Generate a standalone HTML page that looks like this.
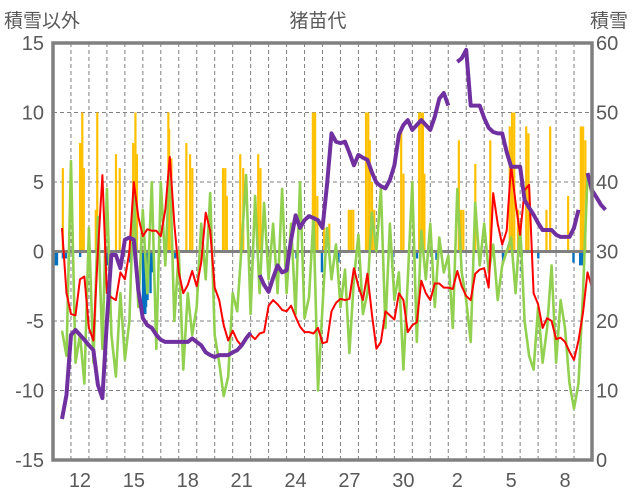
<!DOCTYPE html>
<html><head><meta charset="utf-8">
<style>
html,body{margin:0;padding:0;background:#fff;}
svg{display:block;font-family:"Liberation Sans","Noto Sans CJK JP",sans-serif;}
</style></head>
<body>
<svg id="chart" width="636" height="501" viewBox="0 0 636 501" xmlns="http://www.w3.org/2000/svg">
<text x="4" y="27" font-size="19" fill="#595959">積雪以外</text>
<text x="318" y="27" font-size="19" fill="#595959" text-anchor="middle">猪苗代</text>
<text x="590" y="27" font-size="19" fill="#595959">積雪</text>
<g id="grid"></g>
<g id="bars"></g>
<g id="lines"></g>
<g id="axes"></g>
</svg>
<script>
const dayLabels = ["12","15","18","21","24","27","30","2","5","8"];
const leftTicks = [15,10,5,0,-5,-10,-15];
const rightTicks = [60,50,40,30,20,10,0];
// 6-hourly samples (index i => hour i*6)
const snowDepth = [null,null,5.9,9.4,18,18.7,18,17.3,16.5,15.8,10.8,8.9,20,29.5,29.5,27.6,31.7,32,31.7,24.5,20.4,19.4,19,18,17.3,17,17,17,17,17,17,17.5,17,16.5,15.5,15.1,14.8,15.1,15.1,15.1,15.5,15.8,16.5,17.5,18.3,null,26.6,25.2,24.2,26.2,28,27,27.3,31.7,35.2,33.4,34.5,35.1,34.8,34.5,33.4,39.6,47,45.8,45.6,45.8,44.2,42.4,43.9,43.5,43.2,41.4,39.9,39.4,39.1,40.3,42.4,46.8,48.2,48.9,47.5,48.2,48.9,48.2,47.5,49.4,52,52.8,51,null,57.3,57.8,59,51,51,51,49.2,47.8,47.2,47,47,44.3,42.2,42.2,42.2,37.4,36.3,35.3,34.1,33.1,33.1,33.1,32.4,32.1,32.1,32.1,33.4,36,null,41.3,38.8,37.8,36.7,36];
const temperature = [null,null,1.7,-3,-4.5,-4.6,-2,-1.8,-5.5,-6.4,0,5.5,-3,-3.3,-3.5,-1.5,-2,0,5,2.5,1.1,1.6,1.5,1.5,1.1,3,6.8,2,-1.5,-3,-2.4,-1.4,-2.5,-0.8,2.8,1.5,-2.6,-3.5,-5.3,-6.4,-5.7,-6.4,-6.8,-6.3,-6,-6.3,-5.9,-5.8,-3.9,-3.5,-3.8,-4.2,-4.3,-3.9,-4.7,-5.4,-5.8,-5.8,-5.9,-5.5,-6.6,-6.5,-4.3,-3.7,-3.4,-3.5,-3.4,-1.2,-2.5,-3.5,-1.6,-4.5,-7,-6.5,-4.3,-4.6,-4.9,-3,-3.5,-5.8,-5.3,-5.1,-2.1,-3,-3.5,-2.3,-2.3,-2.6,-2.6,-2.7,-1.4,-2.5,-3.2,-3.5,-1.6,-1.3,-1.2,-2.6,4.2,2,0.5,1.5,6.2,3.5,1.2,4.4,4.8,-3,-3.8,-5.5,-4.8,-5,-6.3,-6.2,-6.5,-7.2,-7.8,-6.4,-4.4,-1.5,-2.6];
const greenSeries = [null,null,-5.7,-7.5,6.5,-8,-6,-9.5,1.7,-8,2.5,-7,4.5,-6,-9,-3,-7.8,-5,4.5,-4,3,-3,5,-7,5,-1,6.5,-5,0,-8.5,-3,-6,-4,2,-2,4.2,-6,-8,-10.4,-9,-3,-4.3,0.5,5.5,-4.5,4,-3,3.5,-2,2,-3,4.5,-3,2,-4.5,5,-4.8,-3.3,2.5,-10,-4,1.7,-2,0.5,-4,-1.3,-7.3,-2,1.2,-4.5,-3,2.8,0,4.5,-5.5,2,-3.5,-1.5,-8.5,-2,5,-6.5,1.5,-2,2,-4,1,-1.5,-0.3,-5.5,4.5,-1.5,-3.5,-6.5,3.5,-1,2,-1.5,0.5,-3.5,-1,0,1,-3,2,-5,-7.5,-8.5,-4,-8,-5.5,-1,-8,-3.5,-5.5,-9.5,-11.3,-9.5,-3,5.5,4];
const snowfallHours = [13,36,37,39,41,57,59,84,89,107,110,112,154,155,158,178,183,186,227,230,232,250,254,274,277,347,350,353,362,369,395,398,401,418,421,423,426,429,465,468,489,492,494,496,542,545,548,564,584,610,613,616,621,632,635,659,664,688,705,708,711];
const snowfallVals = [6,7.8,7.8,10,6,3,10,7,6,7.8,10,7,10,8.8,6.7,7.8,7,6,6,6,4,7,6,7,6,10,10,4,1.7,2,3,3,3,10,10,8,5,3,9,5.6,10,10,10,5.6,8,3,3,6.3,8,9,10,10,3,9,8.5,3,9,4,9,9,8];
const precipHours = [3,5,13,17,36,71,72,103,120,122,123,124,126,130,132,163,267,325,359,381,453,486,512,601,626,648,695,704,707];
const precipVals = [-1,-1,-0.5,-0.5,-0.4,-1,-1,-0.8,-4.5,-4.5,-4.5,-4,-3.5,-3,-1.5,-0.5,-0.5,-0.5,-1.5,-0.8,-1.2,-0.5,-0.6,-0.6,-1.5,-0.5,-0.8,-1,-1];

const X0=53,X1=592,Y0=43,Y1=460,HOURS=720;
const xH = h => X0 + h*(X1-X0)/HOURS;
const yL = v => Y1 - (v+15)*(Y1-Y0)/30;
const yR = v => Y1 - v*(Y1-Y0)/60;
const NS="http://www.w3.org/2000/svg";
function mk(tag, parent, attrs){const e=document.createElementNS(NS,tag);for(const k in attrs)e.setAttribute(k,attrs[k]);parent.appendChild(e);return e;}
const grid=document.getElementById('grid'),bars=document.getElementById('bars'),lines=document.getElementById('lines'),axes=document.getElementById('axes');
for(const t of leftTicks){ if(t===0||t===15||t===-15) continue;
  const l=mk('line',grid,{x1:X0,x2:X1,y1:yL(t),y2:yL(t),stroke:'#808080','stroke-width':1,'stroke-dasharray':'4,3'});
  
  
}
for(let d=1;d<30;d++){
  const x=xH(d*24);
  const l=mk('line',grid,{x1:x,x2:x,y1:Y0,y2:Y1,stroke:'#808080','stroke-width':1,'stroke-dasharray':'4,3'});
  
  
}
snowfallHours.forEach((h,i)=>{
  const v=snowfallVals[i]; if(v==null) return;
  const r=mk('rect',bars,{x:xH(h)-1,y:yL(v),width:2.2,height:yL(0)-yL(v),fill:'#FFC000'});
  
  
});
precipHours.forEach((h,i)=>{
  const v=precipVals[i];
  const r=mk('rect',bars,{x:xH(h)-1,y:yL(0),width:2.4,height:yL(v)-yL(0),fill:'#0070C0'});
  
  
});
const zl=mk('line',bars,{x1:X0,x2:X1,y1:yL(0),y2:yL(0),stroke:'#808080','stroke-width':3});


function path(arr,yf){let d='',pen=false;arr.forEach((v,i)=>{if(v==null){pen=false;return;}const x=xH(i*6).toFixed(1),y=yf(v).toFixed(1);d+=(pen?'L':'M')+x+' '+y;pen=true;});return d;}
const g=mk('path',lines,{d:path(greenSeries,yL),fill:'none',stroke:'#92D050','stroke-width':2.6,'stroke-linejoin':'round'});


const r=mk('path',lines,{d:path(temperature,yL),fill:'none',stroke:'#FF0000','stroke-width':2,'stroke-linejoin':'round'});


const p=mk('path',lines,{d:path(snowDepth,yR),fill:'none',stroke:'#7030A0','stroke-width':4,'stroke-linejoin':'round'});


const fr=mk('rect',axes,{x:X0,y:Y0,width:X1-X0,height:Y1-Y0,fill:'none',stroke:'#808080','stroke-width':3.5});


leftTicks.forEach(t=>{
  const e=mk('text',axes,{x:44,y:yL(t)+7,'font-size':20,fill:'#595959','text-anchor':'end'});e.textContent=t;
  
  
});
rightTicks.forEach(t=>{
  const e=mk('text',axes,{x:596,y:yR(t)+7,'font-size':20,fill:'#595959'});e.textContent=t;
  
  
});
dayLabels.forEach((s,i)=>{
  const e=mk('text',axes,{x:xH((1+3*i)*24+12),y:487,'font-size':20,fill:'#595959','text-anchor':'middle'});e.textContent=s;
  
  
});
</script>
</body></html>
